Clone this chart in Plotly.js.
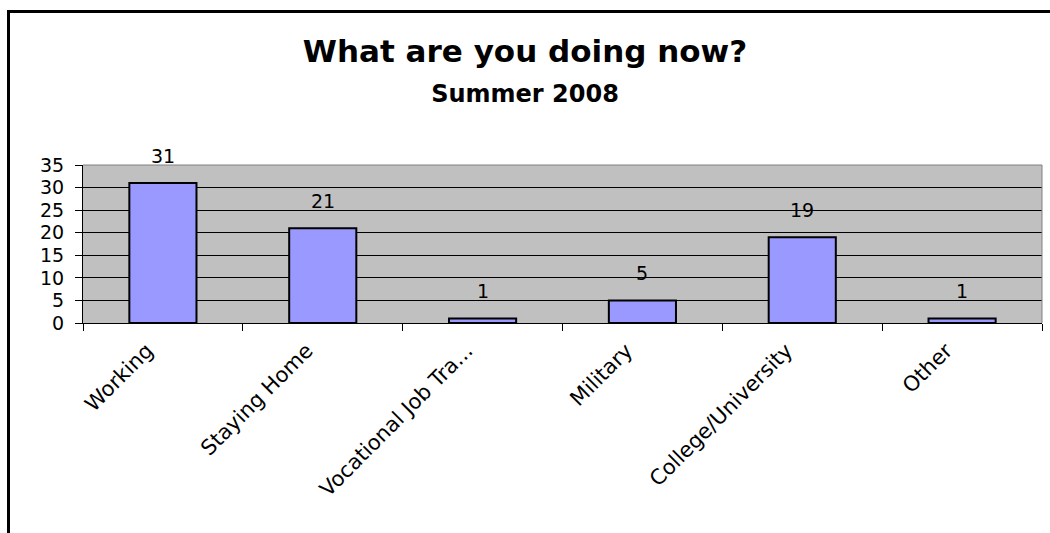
<!DOCTYPE html>
<html>
<head>
<meta charset="utf-8">
<script src="https://cdn.plot.ly/plotly-3.0.1.min.js"></script>
<style>
html,body{margin:0;padding:0;background:#fff;}
#wrap{position:relative;width:1050px;height:533px;overflow:hidden;}
#frame{position:absolute;left:7px;top:10px;right:-10px;bottom:-10px;border-left:3px solid #000;border-top:3px solid #000;pointer-events:none;}
</style>
</head>
<body>
<div id="wrap">
<div id="chart" style="width:1050px;height:533px;"></div>
<div id="frame"></div>
</div>
<script>
const categories = ["Working", "Staying Home", "Vocational Job Tra...", "Military", "College/University", "Other"];
const values = [31, 21, 1, 5, 19, 1];
const yTickValues = [0, 5, 10, 15, 20, 25, 30, 35];

const fontFamily = "DejaVu Sans, Liberation Sans, Arial, sans-serif";

const trace = {
  type: "bar",
  x: categories,
  y: values,
  marker: { color: "#9999FF", line: { color: "#000000", width: 2 } },
  hoverinfo: "x+y"
};

const annotations = categories.map((c, i) => ({
  x: c, y: values[i], xref: "x", yref: "y",
  text: String(values[i]), showarrow: false,
  yanchor: "bottom", yshift: 14,
  font: { family: fontFamily, size: 19, color: "#000" }
}));

const layout = {
  width: 1050, height: 533,
  margin: { l: 83, r: 8, t: 165, b: 210 },
  paper_bgcolor: "#ffffff",
  plot_bgcolor: "#C0C0C0",
  showlegend: false,
  bargap: 0.58,
  font: { family: fontFamily, size: 18, color: "#000" },
  title: {
    text: "<b>What are you doing now?</b><br><b><span style=\"font-size:24px\">Summer 2008</span></b>",
    font: { family: fontFamily, size: 31, color: "#000" },
    x: 0.5, xanchor: "center",
    yref: "container", y: 1 - 62/533, yanchor: "top"
  },
  xaxis: {
    type: "category",
    tickangle: -45,
    showline: true, linecolor: "#000", linewidth: 1,
    ticks: "outside", ticklen: 7, tickcolor: "#000", tickwidth: 1,
    tickson: "boundaries",
    ticklabelstandoff: 6,
    ticklabelshift: -16,
    showgrid: false,
    tickfont: { family: fontFamily, size: 21, color: "#000" }
  },
  yaxis: {
    range: [0, 35],
    tickvals: yTickValues,
    ticktext: yTickValues.map(String),
    showline: true, linecolor: "#000", linewidth: 1,
    ticks: "outside", ticklen: 7, tickcolor: "#000", tickwidth: 1,
    ticklabelstandoff: 7,
    showgrid: true, gridcolor: "#000", gridwidth: 1,
    zeroline: false,
    tickfont: { family: fontFamily, size: 19, color: "#000" }
  },
  shapes: [
    { type: "line", xref: "paper", yref: "paper", x0: 0, x1: 1, y0: 1, y1: 1, line: { color: "#808080", width: 1 }, layer: "above" },
    { type: "line", xref: "paper", yref: "paper", x0: 1, x1: 1, y0: 0, y1: 1, line: { color: "#808080", width: 1 }, layer: "above" }
  ],
  annotations: annotations
};

Plotly.newPlot("chart", [trace], layout, { displayModeBar: false, staticPlot: true });
</script>
</body>
</html>
